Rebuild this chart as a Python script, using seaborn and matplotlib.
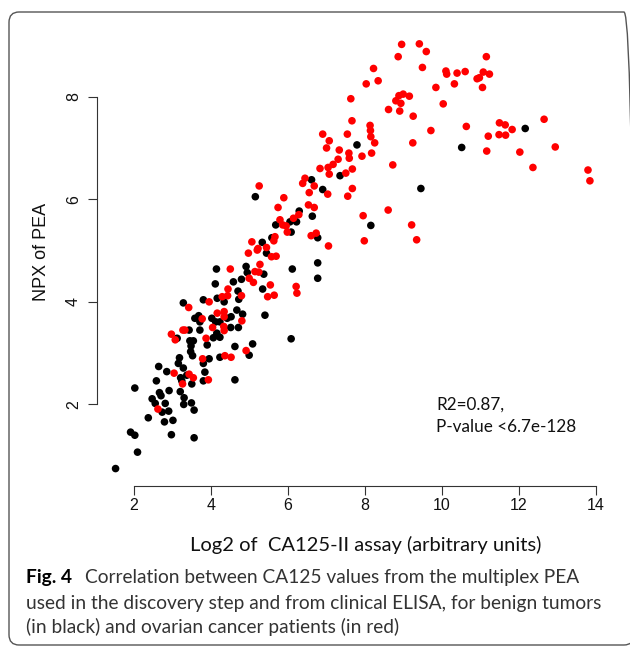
import seaborn as sns
import matplotlib.pyplot as plt
import pandas as pd
from matplotlib.patches import FancyBboxPatch

# benign tumours (black)
benign_x = [1.53, 2.10, 1.92, 2.03, 2.38, 2.98, 3.57, 2.80, 3.02, 2.91, 2.74, 3.57, 2.82, 2.48, 2.56,
            2.67, 2.71, 2.92, 3.21, 3.31, 3.30, 3.50, 2.03, 2.59, 4.63, 3.25, 3.51, 3.81, 3.22, 3.38,
            3.85, 2.86, 3.29, 2.65, 3.16, 3.81, 3.19, 3.96, 4.24, 3.53, 5.00, 3.48, 4.63, 3.49, 3.91,
            5.09, 3.46, 3.55, 6.09, 3.13, 4.07, 4.24, 4.16, 3.44, 3.72, 4.52, 4.72, 3.69, 3.59, 3.72,
            4.03, 4.13, 4.24, 4.43, 4.53, 4.68, 4.83, 5.41, 3.29, 3.81, 4.17, 4.35, 4.73, 4.71, 5.35,
            4.12, 4.59, 4.80, 5.38, 4.92, 4.95, 4.15, 6.12, 6.78, 6.78, 5.45, 5.34, 5.59, 5.69, 6.09,
            6.06, 6.23, 6.30, 6.64, 6.78, 5.16, 6.62, 6.91, 7.36, 7.80, 8.16, 9.46, 10.52, 12.17]
benign_y = [0.75, 1.07, 1.46, 1.40, 1.74, 1.41, 1.35, 1.66, 1.69, 1.87, 1.85, 1.89, 2.02, 2.11, 2.02,
            2.23, 2.17, 2.27, 2.25, 2.13, 2.00, 2.03, 2.32, 2.46, 2.48, 2.46, 2.40, 2.46, 2.52, 2.57,
            2.63, 2.64, 2.71, 2.74, 2.80, 2.80, 2.91, 2.89, 2.92, 2.95, 2.96, 3.03, 3.13, 3.14, 3.16,
            3.18, 3.24, 3.24, 3.28, 3.29, 3.30, 3.31, 3.39, 3.45, 3.45, 3.50, 3.50, 3.73, 3.68, 3.61,
            3.68, 3.61, 3.61, 3.68, 3.71, 3.84, 3.76, 3.74, 3.98, 4.04, 4.07, 4.00, 4.05, 4.21, 4.25,
            4.35, 4.39, 4.44, 4.54, 4.69, 4.57, 4.64, 4.64, 4.46, 4.76, 4.95, 5.16, 5.25, 5.50, 5.36,
            5.56, 5.56, 5.77, 5.67, 5.25, 6.05, 6.38, 6.19, 6.46, 7.06, 5.49, 6.21, 7.01, 7.38]

# ovarian cancer patients (red)
cancer_x = [2.63, 3.27, 3.94, 3.05, 3.44, 3.55, 3.79, 4.37, 4.53, 4.92, 3.88, 2.98, 3.08, 3.28, 3.33,
            4.05, 4.34, 4.35, 3.78, 4.17, 4.35, 4.35, 4.81, 3.43, 3.96, 4.30, 4.44, 4.80, 4.45, 5.48,
            5.65, 6.22, 6.24, 5.55, 5.00, 5.11, 5.15, 5.25, 5.28, 4.51, 4.98, 5.21, 5.58, 5.70, 5.07,
            5.23, 5.45, 5.64, 5.67, 5.26, 5.90, 5.75, 5.80, 5.87, 5.96, 5.99, 6.15, 6.29, 6.54, 6.69,
            6.56, 6.69, 6.45, 6.39, 6.61, 6.74, 7.06, 7.04, 7.56, 7.08, 6.84, 7.05, 7.18, 7.31, 7.51,
            7.68, 7.68, 7.60, 7.59, 7.34, 7.01, 7.08, 6.91, 7.55, 7.93, 8.18, 8.73, 8.61, 7.96, 9.22,
            7.99, 9.35, 7.67, 7.64, 8.14, 8.15, 8.16, 8.26, 9.25, 8.04, 8.35, 8.23, 8.62, 8.91, 8.81,
            8.94, 8.89, 9.00, 9.16, 9.26, 9.72, 8.87, 8.96, 9.42, 9.60, 9.50, 9.85, 10.04, 10.11, 10.13,
            10.33, 10.40, 10.61, 10.92, 10.98, 11.08, 11.24, 11.06, 11.16, 10.64, 11.21, 11.17, 11.50, 11.65, 11.83,
            11.49, 11.66, 12.03, 12.37, 12.66, 12.95, 13.80, 13.85]
cancer_y = [1.91, 2.40, 2.48, 2.61, 2.59, 2.52, 2.89, 2.95, 2.92, 3.05, 3.29, 3.37, 3.26, 3.45, 3.45,
            3.50, 3.52, 3.44, 3.67, 3.78, 3.81, 3.71, 3.63, 3.89, 4.00, 4.10, 4.12, 4.12, 4.25, 4.10,
            4.13, 4.30, 4.17, 4.33, 4.46, 4.38, 4.59, 4.58, 4.73, 4.64, 4.95, 5.01, 4.88, 4.89, 5.17,
            5.04, 5.06, 5.19, 5.27, 6.26, 6.03, 5.84, 5.60, 5.50, 5.48, 5.36, 5.63, 5.70, 5.89, 5.84,
            6.13, 6.26, 6.41, 6.31, 5.29, 5.34, 5.09, 6.10, 6.06, 6.49, 6.60, 6.62, 6.68, 6.78, 6.51,
            6.59, 6.21, 6.80, 6.90, 6.96, 7.00, 7.14, 7.27, 7.27, 6.84, 6.90, 6.67, 5.79, 5.68, 5.50,
            5.19, 5.21, 7.53, 7.96, 7.44, 7.34, 7.22, 7.10, 7.10, 8.25, 8.31, 8.55, 7.75, 7.72, 7.92,
            7.87, 8.02, 8.05, 8.01, 7.62, 7.34, 8.78, 9.02, 9.03, 8.88, 8.57, 8.18, 7.86, 8.50, 8.44,
            8.25, 8.46, 8.49, 8.35, 8.37, 8.48, 8.44, 8.18, 8.78, 7.42, 7.23, 6.94, 7.49, 7.45, 7.36,
            7.26, 7.25, 6.92, 6.62, 7.56, 7.02, 6.57, 6.36]

df = pd.concat([
    pd.DataFrame({'ca125': benign_x, 'npx': benign_y, 'group': 'benign'}),
    pd.DataFrame({'ca125': cancer_x, 'npx': cancer_y, 'group': 'cancer'}),
], ignore_index=True)

sns.set_style("ticks")
plt.rcParams['font.family'] = ['Liberation Sans', 'DejaVu Sans']

W, H = 630, 647
fig = plt.figure(figsize=(W / 100, H / 100), dpi=100)
ax = fig.add_axes([96.7 / W, 1 - 486 / H, 514 / W, 460.1 / H])

sns.scatterplot(data=df, x='ca125', y='npx', hue='group',
                palette={'benign': 'black', 'cancer': '#ff0000'},
                s=30, linewidth=0, legend=False, ax=ax)

ax.set_xlim(1.04, 14.39)
ax.set_ylim(0.41, 9.38)
ax.set_xticks([2, 4, 6, 8, 10, 12, 14])
ax.set_yticks([2, 4, 6, 8])
ax.set_yticklabels(['2', '4', '6', '8'], rotation=90, va='center')
for s in ['top', 'right']:
    ax.spines[s].set_visible(False)
ax.spines['left'].set_bounds(2, 8)
ax.spines['bottom'].set_bounds(2, 14)
for s in ['left', 'bottom']:
    ax.spines[s].set_color('#333333')
    ax.spines[s].set_linewidth(0.8)
ax.tick_params(axis='both', bottom=True, left=True, direction='out', length=6.3, width=0.8,
               color='#333333', labelsize=11.5, labelcolor='#111111')
ax.tick_params(axis='x', pad=2.5)
ax.tick_params(axis='y', pad=5)
ax.set_xlabel('')
ax.set_ylabel('')

fig.text(42 / W, 1 - 252 / H, 'NPX of PEA', rotation=90, ha='center', va='center',
         fontsize=13, color='#111111')

texts = []
xl = fig.text(190 / W, 1 - 545 / H, 'Log2 of  CA125-II assay (arbitrary units)',
              ha='left', va='center', fontsize=13, family='Lato', color='#111111')
texts.append((xl, 350))
r2 = fig.text(436 / W, 1 - 405 / H, 'R2=0.87,', ha='left', va='center', fontsize=11,
              family='Lato', color='#111111')
pv = fig.text(436 / W, 1 - 427 / H, 'P-value <6.7e-128', ha='left', va='center', fontsize=11,
              family='Lato', color='#111111')
texts.append((pv, 140))

figlab = fig.text(26 / W, 1 - 577 / H, 'Fig. 4', ha='left', va='center', fontsize=12.5,
                  family='Lato', weight='bold', color='black')
cap1 = fig.text(85 / W, 1 - 577 / H, 'Correlation between CA125 values from the multiplex PEA',
                ha='left', va='center', fontsize=12.5, family='Lato', color='#333333')
cap2 = fig.text(26 / W, 1 - 603 / H,
                'used in the discovery step and from clinical ELISA, for benign tumors',
                ha='left', va='center', fontsize=12.5, family='Lato', color='#333333')
cap3 = fig.text(26 / W, 1 - 627 / H, '(in black) and ovarian cancer patients (in red)',
                ha='left', va='center', fontsize=12.5, family='Lato', color='#333333')
texts.append((cap2, 578))

# scale fonts so text widths match the reference
fig.canvas.draw()
rend = fig.canvas.get_renderer()
for t, wpx in texts:
    bb = t.get_window_extent(rend)
    t.set_fontsize(t.get_fontsize() * wpx / bb.width)
r2.set_fontsize(pv.get_fontsize())
for t in [figlab, cap1, cap3]:
    t.set_fontsize(cap2.get_fontsize())

frame = FancyBboxPatch((9 / W, 1 - 645 / H), 625 / W, 633 / H,
                       boxstyle='round,pad=0,rounding_size=0.016',
                       transform=fig.transFigure, fill=False, edgecolor='#555555',
                       linewidth=1.0, clip_on=False)
fig.patches.append(frame)

plt.savefig('out.png', dpi=100)
